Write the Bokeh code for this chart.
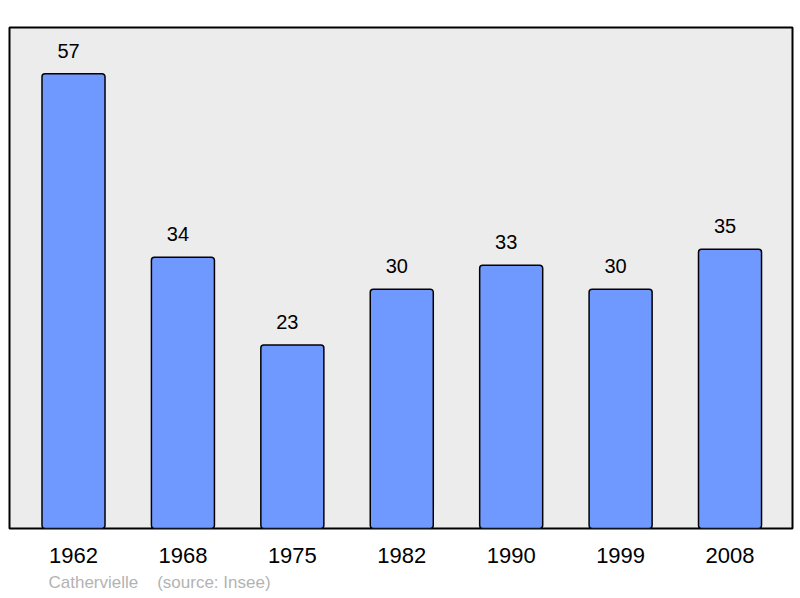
from bokeh.plotting import figure
from bokeh.models import Range1d, FixedTicker, ColumnDataSource, Title
from bokeh.core.properties import value
from bokeh.embed import file_html
from bokeh.resources import INLINE

years = ["1962", "1968", "1975", "1982", "1990", "1999", "2008"]
population = [57, 34, 23, 30, 33, 30, 35]
commune = "Cathervielle"
source_note = "(source: Insee)"

xs = list(range(len(years)))
src = ColumnDataSource(dict(x=xs, top=population, lab=[str(v) for v in population]))

p = figure(width=798, height=596, output_backend="svg", toolbar_location=None,
           x_range=Range1d(-0.585, 6.571), y_range=Range1d(0, 62.8),
           min_border_left=9, min_border_right=6, min_border_top=27, min_border_bottom=10)

p.background_fill_color = "#ececec"
p.border_fill_color = "white"
p.outline_line_color = "black"
p.outline_line_width = 2
p.xgrid.visible = False
p.ygrid.visible = False
p.yaxis.visible = False

p.vbar(x="x", top="top", bottom=0, width=0.576, source=src,
       fill_color="#7099ff", line_color="black", line_width=1.5, border_radius=3)

p.text(x="x", y="top", text="lab", source=src, x_offset=-5, y_offset=-16,
       text_align="center", text_baseline="bottom",
       text_font=value("Liberation Sans"), text_font_size="20px", text_color="black")

p.xaxis.ticker = FixedTicker(ticks=xs)
p.xaxis.major_label_overrides = {i: y for i, y in zip(xs, years)}
p.xaxis.axis_line_color = None
p.xaxis.major_tick_line_color = None
p.xaxis.minor_tick_line_color = None
p.xaxis.major_label_standoff = 13
p.xaxis.major_label_text_font = "Liberation Sans"
p.xaxis.major_label_text_font_size = "22px"
p.xaxis.major_label_text_color = "black"

footer = commune + "\u00a0\u00a0\u00a0\u00a0" + source_note
t = Title(text=footer, align="left", offset=39, text_font="Liberation Sans",
          text_font_size="17px", text_font_style="normal", text_color="#b3b3b3", standoff=10)
p.add_layout(t, "below")

open("out.html", "w").write(file_html(p, INLINE))
